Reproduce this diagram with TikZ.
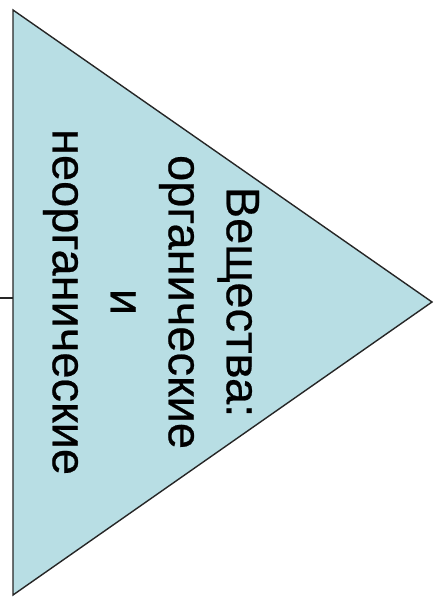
\documentclass[tikz,border=0pt]{standalone}
\usepackage{fontspec}
\setmainfont{Liberation Sans}[FakeBold=0.5]
\definecolor{trifill}{RGB}{184,222,228}
\begin{document}
\begin{tikzpicture}[x=1pt,y=-1pt,
  edge/.style={draw=black!85,line width=1.4pt},
  label/.style={rotate=-90,align=center,font=\fontsize{47}{58}\selectfont,inner sep=0pt}]
\useasboundingbox (0,0) rectangle (434,597);
\coordinate (top) at (13,10);
\coordinate (apex) at (432,302);
\coordinate (bot) at (13,595);
\coordinate (mid) at (13,298);
\coordinate (lend) at (0,298);
\fill[trifill] (top) -- (apex) -- (bot) -- cycle;
\draw[edge,line join=miter] (top) -- (apex) -- (bot) -- cycle;
\draw[edge] (lend) -- (mid);
\node[label] (txt) at (151,302) {Вещества:\\органические\\и\\неорганические};
\end{tikzpicture}
\end{document}
